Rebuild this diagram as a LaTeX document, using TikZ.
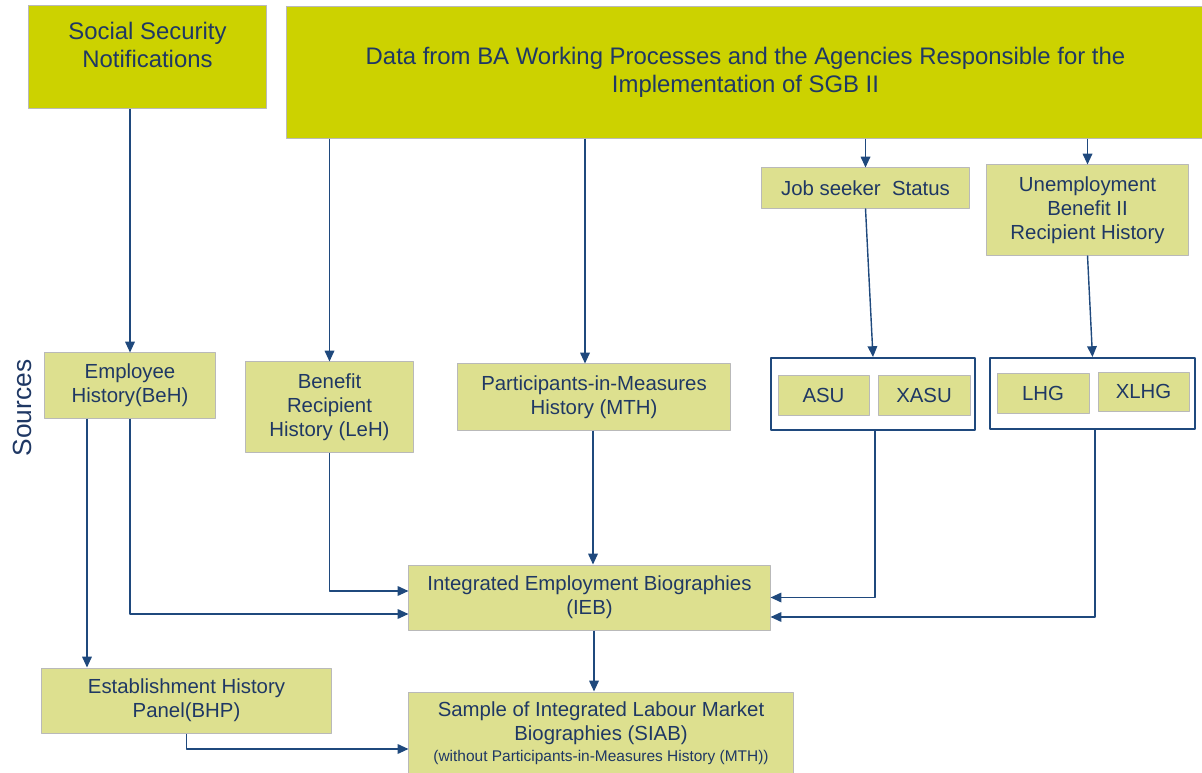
\documentclass[tikz,border=0pt]{standalone}
\usepackage{fontspec}
\setmainfont{Liberation Sans}
\usetikzlibrary{arrows.meta,calc}
\definecolor{darkbox}{RGB}{204,210,0}
\definecolor{lightbox}{RGB}{221,224,143}
\definecolor{boxline}{RGB}{185,185,185}
\definecolor{txtblue}{RGB}{31,56,100}
\definecolor{arrblue}{RGB}{31,73,125}
\begin{document}
\begin{tikzpicture}[x=0.025cm,y=-0.025cm,line join=round,>={Triangle[length=0.27cm,width=0.24cm]}]
	\tikzset{every node/.style={text=txtblue,align=center,inner sep=0pt},
		bigbox/.style={draw=boxline,line width=0.7pt,fill=darkbox},
		bigtext/.style={font=\fontsize{17}{19.8}\selectfont},
		srcbox/.style={draw=boxline,line width=0.7pt,fill=lightbox,font=\fontsize{14.5}{17}\selectfont},
		groupbox/.style={draw=arrblue,line width=1.4pt},
		arr/.style={->,draw=arrblue,line width=1pt}}
	\useasboundingbox (0,0) rectangle (1202,773);
	% sources on top
	\node[bigbox,minimum width=5.925cm,minimum height=2.55cm] (ssn) at (147.5,57) {};
	\node[bigtext] (ssntext) at (147.5,45) {Social Security\\Notifications};
	\node[bigbox,bigtext,minimum width=22.95cm,minimum height=3.275cm] (data) at (745.5,72.5)
		{Data from BA Working Processes and the Agencies Responsible for the\\Implementation of SGB II};
	\node[srcbox,minimum width=5.175cm,minimum height=1cm] (job) at (865.5,188) {Job seeker~~Status};
	\node[srcbox,minimum width=5.025cm,minimum height=2.25cm] (ub) at (1087.5,210) {Unemployment\\Benefit II\\Recipient History};
	% grouped files
	\node[groupbox,minimum width=5.1cm,minimum height=1.8cm] (asubox) at (873,394) {};
	\node[srcbox,minimum width=2.275cm,minimum height=1cm] (asu) at (823.5,395) {ASU};
	\node[srcbox,minimum width=2.3cm,minimum height=1cm] (xasu) at (924,395) {XASU};
	\node[groupbox,minimum width=5.125cm,minimum height=1.775cm] (lhgbox) at (1092.5,393.5) {};
	\node[srcbox,minimum width=2.3cm,minimum height=1cm] (lhg) at (1043,393) {LHG};
	\node[srcbox,minimum width=2.275cm,minimum height=0.975cm] (xlhg) at (1143.5,391.5) {XLHG};
	% histories
	\node[srcbox,minimum width=4.25cm,minimum height=1.625cm] (emp) at (130,385.5) {Employee\\History(BeH)};
	\node[srcbox,minimum width=4.175cm,minimum height=2.25cm] (ben) at (329.5,407) {Benefit\\Recipient\\History (LeH)};
	\node[srcbox,minimum width=6.8cm,minimum height=1.65cm] (mth) at (594,397) {Participants-in-Measures\\History (MTH)};
	\node[font=\fontsize{18.7}{20}\selectfont,rotate=90] (sources) at (22,408) {Sources};
	% products
	\node[srcbox,minimum width=9.025cm,minimum height=1.625cm] (ieb) at (589.5,597.5) {Integrated Employment Biographies\\(IEB)};
	\node[srcbox,minimum width=7.225cm,minimum height=1.625cm] (bhp) at (186.5,700.5) {Establishment History\\Panel(BHP)};
	\node[srcbox,minimum width=9.6cm,minimum height=2.075cm] (siab) at (601,733.5)
		{Sample of Integrated Labour Market\\Biographies (SIAB)\\[-2pt]{\fontsize{11}{13}\selectfont(without Participants-in-Measures History (MTH))}};
	% tap points
	\coordinate (mthin) at ($(mth.north)+(-9,0)$);
	\coordinate (mthout) at ($(mth.south)+(-1,0)$);
	\coordinate (empleft) at ($(emp.south)+(-43,0)$);
	\coordinate (iebout) at ($(ieb.south)+(4.5,0)$);
	% connectors
	\draw[arr] (emp.north |- ssn.south) -- (emp.north);
	\foreach \n in {ben,job,ub,mthin}
		\draw[arr] (\n |- data.south) -- (\n);
	\draw[arr] (job.south) -- (asubox.north);
	\draw[arr] (ub.south) -- (lhgbox.north);
	\draw[arr] (empleft) -- (empleft |- bhp.north);
	\draw[arr] (emp.south) |- ($(ieb.west)+(0,16.5)$);
	\draw[arr] (ben.south) |- ($(ieb.west)+(0,-6.5)$);
	\draw[arr] (mthout) -- (mthout |- ieb.north);
	\draw[arr] ($(asubox.south)+(2,0)$) |- (ieb.east);
	\draw[arr] ($(lhgbox.south)+(2.5,0)$) |- ($(ieb.east)+(0,19.5)$);
	\draw[arr] (iebout) -- (iebout |- siab.north);
	\draw[arr] (bhp.south) |- ($(siab.west)+(0,15.5)$);
\end{tikzpicture}
\end{document}
